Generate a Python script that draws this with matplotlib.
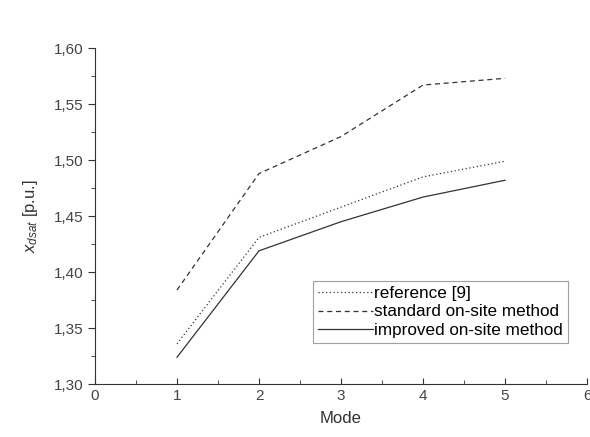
import matplotlib
matplotlib.use("Agg")
import matplotlib.pyplot as plt
from matplotlib.ticker import FuncFormatter, MultipleLocator

plt.rcParams['font.family'] = ['Liberation Sans', 'DejaVu Sans']
plt.rcParams['mathtext.fontset'] = 'custom'
plt.rcParams['mathtext.it'] = 'Liberation Sans:italic'
plt.rcParams['mathtext.rm'] = 'Liberation Sans'

modes = [1, 2, 3, 4, 5]
reference9 = [1.336, 1.431, 1.458, 1.485, 1.499]
standard = [1.384, 1.488, 1.521, 1.567, 1.573]
improved = [1.324, 1.419, 1.445, 1.467, 1.482]

fig = plt.figure(figsize=(5.9, 4.37), dpi=100)
ax = fig.add_axes([0.161, 0.121, 0.834, 0.769])
c = '#333333'
ax.plot(modes, reference9, linestyle=(0, (1, 2)), color=c, lw=0.9, label='reference [9]')
ax.plot(modes, standard, linestyle=(0, (4, 3)), color=c, lw=0.9, label='standard on-site method')
ax.plot(modes, improved, linestyle='-', color=c, lw=0.9, label='improved on-site method')

ax.set_xlim(0, 6)
ax.set_ylim(1.30, 1.60)
ax.xaxis.set_major_locator(MultipleLocator(1))
ax.xaxis.set_minor_locator(MultipleLocator(0.5))
ax.yaxis.set_major_locator(MultipleLocator(0.05))
ax.yaxis.set_minor_locator(MultipleLocator(0.025))
ax.yaxis.set_major_formatter(FuncFormatter(lambda v, p: f"{v:.2f}".replace('.', ',')))
ax.xaxis.set_major_formatter(FuncFormatter(lambda v, p: f"{v:.0f}"))
for s in ['top', 'right']:
    ax.spines[s].set_visible(False)
for s in ['left', 'bottom']:
    ax.spines[s].set_color(c)
ax.tick_params(axis='y', which='major', direction='out', length=5, colors=c, labelsize=11, labelcolor='#444444')
ax.tick_params(axis='y', which='minor', direction='out', length=3, colors=c)
ax.tick_params(axis='x', which='major', direction='in', length=4, colors=c, labelsize=11, labelcolor='#444444')
ax.tick_params(axis='x', which='minor', direction='in', length=3, colors=c)
ax.set_xlabel('Mode', fontsize=12, color='#333333', labelpad=6)
ax.set_ylabel(r'$x_{dsat}$ [p.u.]', fontsize=12, color='#333333', labelpad=10)

leg = ax.legend(loc='upper left', bbox_to_anchor=(0.443, 0.307), fontsize=12.3,
                frameon=True, fancybox=False, edgecolor='#888888', handlelength=3.2,
                handletextpad=0.1, borderpad=0.3, labelspacing=0.2, borderaxespad=0)
leg.get_frame().set_linewidth(0.8)

fig.savefig('out.png', dpi=100)
